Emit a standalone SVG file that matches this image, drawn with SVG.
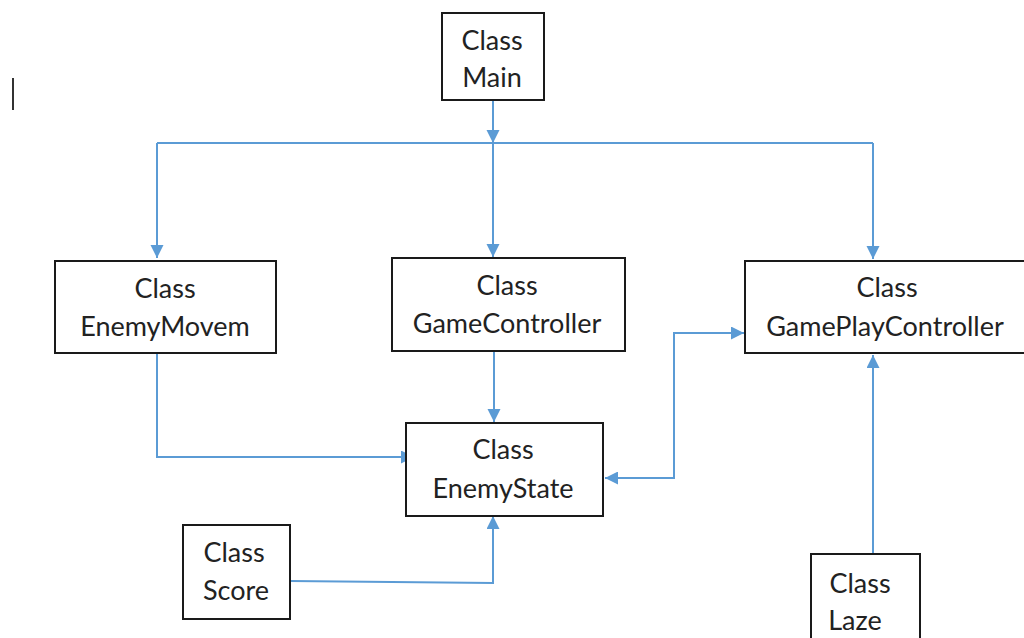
<svg xmlns="http://www.w3.org/2000/svg" width="1024" height="638" viewBox="0 0 1024 638">
<style>
.box{fill:#fff;stroke:#1a1a1a;stroke-width:2}
.t{font-family:Lato,"Liberation Sans",sans-serif;font-size:27px;fill:#222;text-anchor:middle}
.c{fill:none;stroke:#5B9BD5;stroke-width:2}
</style>
<defs>
<marker id="ah" markerUnits="userSpaceOnUse" markerWidth="14" markerHeight="14" refX="13" refY="6.5" orient="auto">
<path d="M0,0 L13,6.5 L0,13 Z" fill="#5B9BD5"/>
</marker>
<marker id="as" markerUnits="userSpaceOnUse" markerWidth="14" markerHeight="14" refX="0" refY="6.5" orient="auto">
<path d="M13,0 L0,6.5 L13,13 Z" fill="#5B9BD5"/>
</marker>
</defs>
<rect width="1024" height="638" fill="#fff"/>
<line x1="13" y1="78" x2="13" y2="110" stroke="#333" stroke-width="2"/>
<g id="connectors">
<path class="c" d="M493,100 V143" marker-end="url(#ah)"/>
<path class="c" d="M157,143 H873"/>
<path class="c" d="M157,143 V258" marker-end="url(#ah)"/>
<path class="c" d="M493,143 V257" marker-end="url(#ah)"/>
<path class="c" d="M873,143 V259" marker-end="url(#ah)"/>
<path class="c" d="M494,351 V422" marker-end="url(#ah)"/>
<path class="c" d="M157,353 V457 H414" marker-end="url(#ah)"/>
<path class="c" d="M290,581 L493,583 V516" marker-end="url(#ah)"/>
<path class="c" d="M605,478 H674 V333 H744" marker-start="url(#as)" marker-end="url(#ah)"/>
<path class="c" d="M873,554 V355" marker-end="url(#ah)"/>
</g>
<g id="main"><rect class="box" x="442" y="13" width="102" height="87"/><text class="t" x="492" y="50">Class</text><text class="t" x="492" y="87">Main</text></g>
<g id="enemymovem"><rect class="box" x="55" y="261" width="221" height="92"/><text class="t" x="165" y="298">Class</text><text class="t" x="165" y="336">EnemyMovem</text></g>
<g id="gamecontroller"><rect class="box" x="392" y="258" width="233" height="93"/><text class="t" x="507" y="295">Class</text><text class="t" x="507" y="333">GameController</text></g>
<g id="gameplaycontroller"><rect class="box" x="745" y="261" width="280" height="92"/><text class="t" x="887" y="297">Class</text><text class="t" x="885" y="336">GamePlayController</text></g>
<g id="enemystate"><rect class="box" x="406" y="423" width="197" height="93"/><text class="t" x="503" y="459">Class</text><text class="t" x="503" y="498">EnemyState</text></g>
<g id="score"><rect class="box" x="183" y="525" width="107" height="94"/><text class="t" x="234" y="562">Class</text><text class="t" x="236" y="600">Score</text></g>
<g id="laze"><rect class="box" x="811" y="554" width="109" height="100"/><text class="t" x="860" y="593">Class</text><text class="t" x="855" y="630">Laze</text></g>
</svg>
